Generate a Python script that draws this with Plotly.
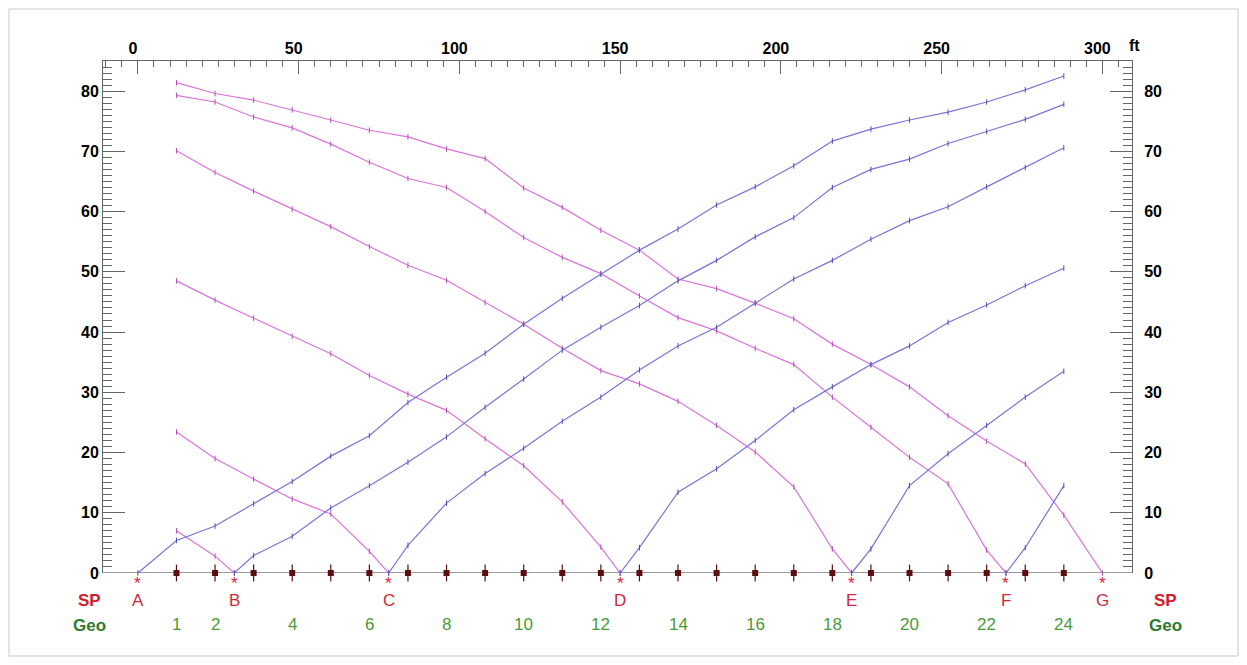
import plotly.graph_objects as go

# ---------------- data ----------------
geo_spacing_ft = 12
geo_numbers = list(range(1, 25))
geo_x = [geo_spacing_ft * n for n in geo_numbers]

shot_names = ["A", "B", "C", "D", "E", "F", "G"]
shot_x = [0, 30, 78, 150, 222, 270, 300]

geo_label_numbers = [1, 2, 4, 6, 8, 10, 12, 14, 16, 18, 20, 22, 24]

# forward (blue) traveltimes, ms, from shot to geophones right of it
blue_A_geo = list(range(1, 25))
blue_A_t = [5.4, 7.8, 11.5, 15.2, 19.4, 22.8, 28.3, 32.5, 36.5, 41.3, 45.6, 49.6,
            53.6, 57.1, 61.1, 64.1, 67.6, 71.7, 73.7, 75.2, 76.5, 78.2, 80.2, 82.5]
blue_B_geo = list(range(3, 25))
blue_B_t = [2.9, 6.1, 10.8, 14.5, 18.4, 22.6, 27.5, 32.2, 37.0, 40.8, 44.4, 48.5,
            51.9, 55.8, 59.0, 64.0, 67.0, 68.7, 71.3, 73.3, 75.3, 77.8]
blue_C_geo = list(range(7, 25))
blue_C_t = [4.6, 11.6, 16.5, 20.7, 25.2, 29.2, 33.7, 37.7, 40.8, 44.8, 48.8, 51.9,
            55.4, 58.5, 60.8, 64.1, 67.3, 70.6]
blue_D_geo = list(range(13, 25))
blue_D_t = [4.2, 13.4, 17.3, 22.0, 27.1, 30.9, 34.6, 37.7, 41.6, 44.5, 47.7, 50.6]
blue_E_geo = list(range(19, 25))
blue_E_t = [4.0, 14.5, 19.8, 24.5, 29.2, 33.5]
blue_F_geo = [23, 24]
blue_F_t = [4.2, 14.5]

# reverse (magenta) traveltimes, ms, from geophones left of shot
mag_G_geo = list(range(1, 25))
mag_G_t = [81.4, 79.6, 78.5, 76.9, 75.2, 73.5, 72.4, 70.4, 68.8, 63.9, 60.7, 56.9,
           53.6, 48.8, 47.2, 44.8, 42.2, 38.0, 34.6, 30.9, 26.1, 21.9, 18.1, 9.6]
mag_F_geo = list(range(1, 23))
mag_F_t = [79.3, 78.2, 75.7, 73.9, 71.2, 68.2, 65.5, 64.0, 60.0, 55.7, 52.4, 49.7,
           46.0, 42.4, 40.2, 37.3, 34.6, 29.2, 24.2, 19.2, 14.8, 3.8]
mag_E_geo = list(range(1, 19))
mag_E_t = [70.1, 66.5, 63.4, 60.4, 57.5, 54.2, 51.1, 48.6, 44.9, 41.3, 37.3, 33.6,
           31.4, 28.5, 24.5, 20.1, 14.3, 4.0]
mag_D_geo = list(range(1, 13))
mag_D_t = [48.5, 45.3, 42.3, 39.3, 36.4, 32.8, 29.7, 27.0, 22.3, 17.8, 11.8, 4.3]
mag_C_geo = list(range(1, 7))
mag_C_t = [23.4, 19.0, 15.6, 12.3, 9.8, 3.6]
mag_B_geo = [1, 2]
mag_B_t = [7.0, 2.8]

blue_sets = [("A", blue_A_geo, blue_A_t), ("B", blue_B_geo, blue_B_t),
             ("C", blue_C_geo, blue_C_t), ("D", blue_D_geo, blue_D_t),
             ("E", blue_E_geo, blue_E_t), ("F", blue_F_geo, blue_F_t)]
mag_sets = [("G", mag_G_geo, mag_G_t), ("F", mag_F_geo, mag_F_t),
            ("E", mag_E_geo, mag_E_t), ("D", mag_D_geo, mag_D_t),
            ("C", mag_C_geo, mag_C_t), ("B", mag_B_geo, mag_B_t)]

# ---------------- styles ----------------
BLUE = "#7575d8"
MAG = "#dc72dc"
FONT = "Liberation Sans, Arial, sans-serif"
X_RANGE = [-10.85, 309.2]
Y_RANGE = [0, 85]
GEO_COL = "#5a0e0e"

# page has an 8px body margin; figure is sized so the page is exactly 1247x665
OFF = 8
FIG_W, FIG_H = 1247 - 2 * OFF, 665 - 2 * OFF

fig = go.Figure()
shot_pos = dict(zip(shot_names, shot_x))

for name, geos, ts in mag_sets:
    xs = [geo_spacing_ft * g for g in geos] + [shot_pos[name]]
    ys = list(ts) + [0]
    fig.add_trace(go.Scatter(
        x=xs, y=ys, mode="lines+markers", cliponaxis=False,
        line=dict(color=MAG, width=1.2),
        marker=dict(symbol="line-ns-open", size=4, color="#b050b0",
                    line=dict(width=1, color="#b050b0")),
        showlegend=False, hoverinfo="skip"))

for name, geos, ts in blue_sets:
    xs = [shot_pos[name]] + [geo_spacing_ft * g for g in geos]
    ys = [0] + list(ts)
    fig.add_trace(go.Scatter(
        x=xs, y=ys, mode="lines+markers", cliponaxis=False,
        line=dict(color=BLUE, width=1.2),
        marker=dict(symbol="line-ns-open", size=4, color="#5050b0",
                    line=dict(width=1, color="#5050b0")),
        showlegend=False, hoverinfo="skip"))

# geophone stems and squares
fig.add_trace(go.Scatter(
    x=geo_x, y=[0] * len(geo_x), mode="markers", cliponaxis=False,
    marker=dict(symbol="line-ns-open", size=12, color=GEO_COL,
                line=dict(width=1.2, color=GEO_COL)),
    showlegend=False, hoverinfo="skip"))
fig.add_trace(go.Scatter(
    x=geo_x, y=[0] * len(geo_x), mode="markers", cliponaxis=False,
    marker=dict(symbol="square", size=6, color=GEO_COL),
    showlegend=False, hoverinfo="skip"))

# invisible trace for right axis
fig.add_trace(go.Scatter(x=[X_RANGE[0]], y=[0], yaxis="y2", mode="markers",
                         marker=dict(opacity=0), showlegend=False, hoverinfo="skip"))

# target page pixel positions of the plot box
PLOT_L, PLOT_R, PLOT_T, PLOT_B = 103, 1132, 61, 573
PW, PH = PLOT_R - PLOT_L, PLOT_B - PLOT_T


def px_to_paper_x(px):
    return (px - PLOT_L) / PW


def py_to_paper_y(py):
    return (PLOT_B - py) / PH


ann = []
RED = "#e0203a"
for name, sx in zip(shot_names, shot_x):
    ann.append(dict(x=sx, y=py_to_paper_y(583), xref="x", yref="paper", text="*",
                    showarrow=False, font=dict(family=FONT, size=17, color=RED),
                    xanchor="center", yanchor="middle"))
    ann.append(dict(x=sx, y=py_to_paper_y(600), xref="x", yref="paper", text=name,
                    showarrow=False, font=dict(family=FONT, size=17, color="#cc2a3a"),
                    xanchor="center", yanchor="middle"))
for n in geo_label_numbers:
    ann.append(dict(x=geo_spacing_ft * n, y=py_to_paper_y(624), xref="x",
                    yref="paper", text=str(n), showarrow=False,
                    font=dict(family=FONT, size=17, color="#4a9a38"),
                    xanchor="center", yanchor="middle"))
for px in (89, 1165):
    ann.append(dict(x=px_to_paper_x(px), y=py_to_paper_y(600), xref="paper", yref="paper",
                    text="<b>SP</b>", showarrow=False,
                    font=dict(family=FONT, size=17, color="#d0202c"),
                    xanchor="center", yanchor="middle"))
    ann.append(dict(x=px_to_paper_x(px), y=py_to_paper_y(625), xref="paper", yref="paper",
                    text="<b>Geo</b>", showarrow=False,
                    font=dict(family=FONT, size=17, color="#2e7a2e"),
                    xanchor="center", yanchor="middle"))
ann.append(dict(x=px_to_paper_x(1134), y=py_to_paper_y(45), xref="paper", yref="paper",
                text="<b>ft</b>", showarrow=False,
                font=dict(family=FONT, size=16, color="black"),
                xanchor="center", yanchor="middle"))

tickfont = dict(family=FONT, size=16, color="black", weight="bold")
AX = "#666666"

yax_common = dict(range=Y_RANGE, showline=True, linecolor=AX, linewidth=1,
                  ticks="inside", ticklen=22, tickwidth=1, tickcolor=AX,
                  tick0=0, dtick=10, showgrid=False, zeroline=False,
                  minor=dict(dtick=1, ticklen=9, ticks="inside", tickcolor=AX, tickwidth=1),
                  tickfont=tickfont, fixedrange=True)

fig.update_layout(
    width=FIG_W, height=FIG_H,
    margin=dict(l=PLOT_L - OFF, r=FIG_W - (PLOT_R - OFF), t=PLOT_T - OFF,
                b=FIG_H - (PLOT_B - OFF), pad=0),
    paper_bgcolor="white", plot_bgcolor="white",
    xaxis=dict(range=X_RANGE, side="top", showline=True, linecolor=AX, linewidth=1,
               ticks="inside", ticklen=13, tickwidth=1, tickcolor=AX,
               tick0=0, dtick=50, showgrid=False, zeroline=False,
               minor=dict(dtick=5, ticklen=6, ticks="inside", tickcolor=AX, tickwidth=1),
               tickfont=tickfont, ticklabelshift=-5),
    yaxis=dict(**yax_common, side="left"),
    yaxis2=dict(**yax_common, side="right", overlaying="y", ticklabelstandoff=8),
    annotations=ann,
    shapes=[
        dict(type="line", xref="paper", yref="y", x0=0, x1=1, y0=0, y1=0,
             line=dict(color="#9a9a9a", width=2.2), layer="below"),
        dict(type="rect", xref="paper", yref="paper",
             x0=px_to_paper_x(9), x1=px_to_paper_x(1238),
             y0=py_to_paper_y(656), y1=py_to_paper_y(9),
             line=dict(color="#c8c8c8", width=1)),
    ],
)

fig.write_html("out.html")
